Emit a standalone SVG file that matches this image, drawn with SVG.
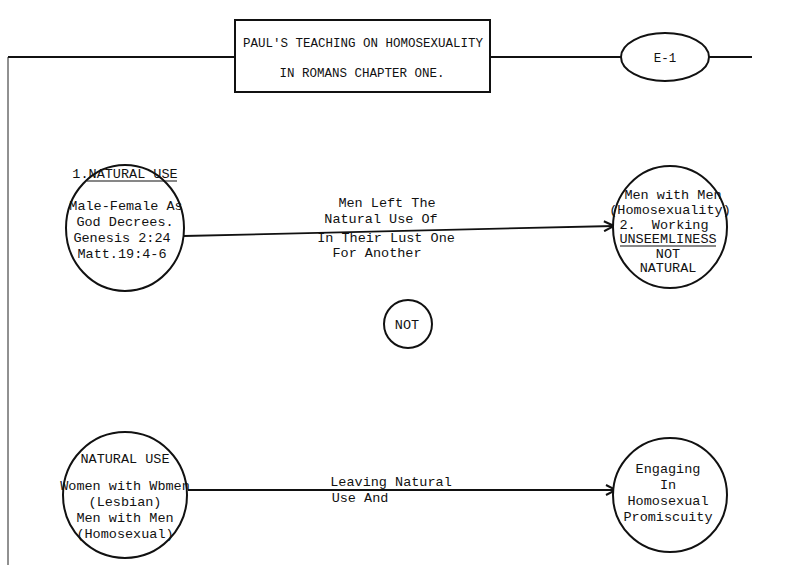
<svg xmlns="http://www.w3.org/2000/svg" width="803" height="585" viewBox="0 0 803 585">
<defs>
<style>
text{font-family:"Liberation Mono","DejaVu Sans Mono",monospace;font-size:13.5px;fill:#111;text-anchor:middle;white-space:pre}
.t{font-size:12.5px}
.shape{fill:#fff;stroke:#111;stroke-width:2}
.ln{fill:none;stroke:#111;stroke-width:1.8}
.thin{fill:none;stroke:#222;stroke-width:1}
.ul{fill:none;stroke:#111;stroke-width:1.2}
</style>
<marker id="ah" viewBox="0 0 12 12" refX="11" refY="6" markerWidth="12" markerHeight="12" markerUnits="userSpaceOnUse" orient="auto">
<path d="M1,1 L11,6 L1,11" fill="none" stroke="#111" stroke-width="2"/>
</marker>
</defs>
<rect width="803" height="585" fill="#fff"/>
<g id="connectors">
<path class="ln" d="M8,57 H235"/>
<path class="thin" d="M8,57 V565"/>
<path class="ln" d="M490,57 H621"/>
<path class="ln" d="M709,57 H752"/>
<path class="ln" d="M184,236 L614,226" marker-end="url(#ah)"/>
<path class="ln" d="M188,490 L616,490" marker-end="url(#ah)"/>
<text x="387" y="207">Men Left The</text>
<text x="381" y="223">Natural Use Of</text>
<text x="386" y="242">In Their Lust One</text>
<text x="377" y="257">For Another</text>
<text x="391" y="486">Leaving Natural</text>
<text x="360" y="502">Use And</text>
</g>
<g id="title">
<rect class="shape" x="235" y="20" width="255" height="72"/>
<text class="t" x="363" y="47">PAUL'S TEACHING ON HOMOSEXUALITY</text>
<text class="t" x="362" y="77">IN ROMANS CHAPTER ONE.</text>
</g>
<g id="e1">
<ellipse class="shape" cx="665" cy="57" rx="44" ry="24"/>
<text class="t" x="665" y="62">E-1</text>
</g>
<g id="natural-use">
<ellipse class="shape" cx="125" cy="228" rx="59" ry="63"/>
<text x="125" y="178">1.NATURAL USE</text>
<path class="ul" d="M87,181 H177"/>
<text x="126" y="210">Male-Female As</text>
<text x="125" y="226">God Decrees.</text>
<text x="122" y="242">Genesis 2:24</text>
<text x="122" y="258">Matt.19:4-6</text>
</g>
<g id="unseemliness">
<ellipse class="shape" cx="670" cy="227" rx="57" ry="61"/>
<text x="673" y="199">Men with Men</text>
<text x="670" y="214">(Homosexuality)</text>
<text x="664" y="229">2.  Working</text>
<text x="668" y="243">UNSEEMLINESS</text>
<path class="ul" d="M620,246 H716"/>
<text x="668" y="258">NOT</text>
<text x="668" y="272">NATURAL</text>
</g>
<g id="not">
<circle class="shape" cx="408" cy="324" r="24"/>
<text x="407" y="329">NOT</text>
</g>
<g id="natural-use-2">
<ellipse class="shape" cx="125" cy="495" rx="62" ry="63"/>
<text x="125" y="463">NATURAL USE</text>
<text x="125" y="490">Women with Wbmen</text>
<text x="125" y="506">(Lesbian)</text>
<text x="125" y="522">Men with Men</text>
<text x="125" y="538">(Homosexual)</text>
</g>
<g id="promiscuity">
<circle class="shape" cx="670" cy="495" r="57"/>
<text x="668" y="473">Engaging</text>
<text x="668" y="489">In</text>
<text x="668" y="505">Homosexual</text>
<text x="668" y="521">Promiscuity</text>
</g>
</svg>
